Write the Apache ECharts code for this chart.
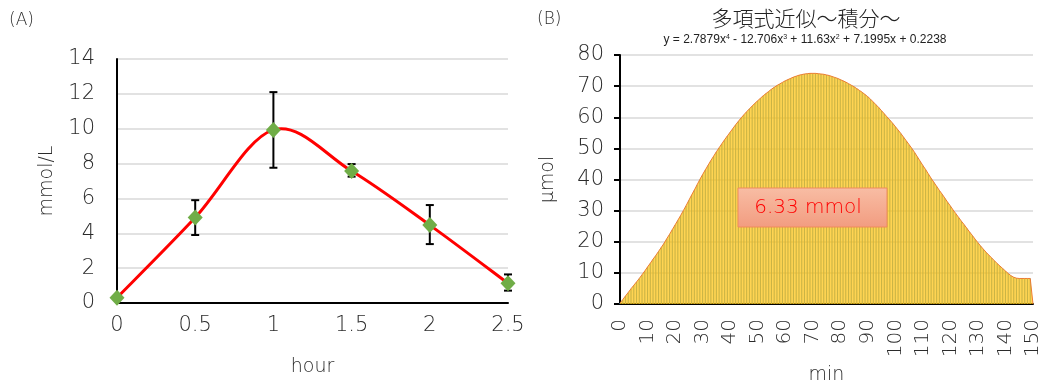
<!DOCTYPE html>
<html>
<head>
<meta charset="utf-8">
<script src="https://cdn.jsdelivr.net/npm/echarts@6/dist/echarts.min.js"></script>
<style>html,body{margin:0;padding:0;background:#fff;}#c{width:1040px;height:380px;}</style>
</head>
<body>
<div id="c"></div>
<script>
// ---- Chart (A) data ----
const aHours = [0, 0.5, 1, 1.5, 2, 2.5];
const aMean  = [0.3, 4.9, 9.93, 7.57, 4.47, 1.13];
const aLow   = [null, 3.9, 7.76, 7.25, 3.38, 0.71];
const aHigh  = [null, 5.9, 12.1, 7.97, 5.62, 1.64];

// ---- Chart (B) data ----
const minCategories = Array.from({length: 151}, (_, i) => String(i));
const umolPerMin = [
  0.3, 1.4, 2.6, 3.7, 4.9, 6.0, 7.1, 8.2, 9.4, 10.6,
  11.9, 13.1, 14.4, 15.6, 16.9, 18.2, 19.5, 21.0, 22.4, 23.9,
  25.4, 26.9, 28.4, 30.0, 31.6, 33.3, 35.0, 36.6, 38.3, 40.0,
  41.6, 43.1, 44.6, 46.1, 47.5, 48.9, 50.2, 51.5, 52.8, 54.0,
  55.2, 56.4, 57.6, 58.7, 59.8, 60.8, 61.8, 62.7, 63.6, 64.5,
  65.3, 66.1, 66.9, 67.6, 68.3, 69.0, 69.6, 70.2, 70.7, 71.2,
  71.7, 72.1, 72.5, 72.9, 73.2, 73.5, 73.7, 73.9, 74.0, 74.1,
  74.1, 74.1, 74.0, 73.9, 73.8, 73.6, 73.4, 73.1, 72.8, 72.5,
  72.1, 71.7, 71.3, 70.8, 70.3, 69.8, 69.2, 68.6, 68.0, 67.3,
  66.6, 65.8, 64.9, 64.0, 63.1, 62.1, 61.1, 60.1, 59.1, 58.1,
  57.0, 55.9, 54.8, 53.6, 52.4, 51.2, 50.0, 48.7, 47.3, 45.9,
  44.5, 43.2, 41.8, 40.4, 39.1, 37.8, 36.5, 35.3, 34.0, 32.7,
  31.5, 30.2, 29.0, 27.8, 26.6, 25.5, 24.3, 23.1, 22.0, 20.8,
  19.7, 18.6, 17.6, 16.6, 15.7, 14.8, 13.9, 13.0, 12.2, 11.4,
  10.6, 9.8, 9.1, 8.6, 8.3, 8.2, 8.2, 8.2, 8.2, 8.2,
  0
];
const titleB = '多項式近似～積分～';
const equationB = 'y = 2.7879x{s|4} - 12.706x{s|3} + 11.63x{s|2} + 7.1995x + 0.2238';
const integralLabel = '6.33 mmol';

const FONT = '"DejaVu Sans", sans-serif';
const FW = 200;
const CJK = '"Noto Sans CJK JP", sans-serif';
const TXT = '#2b2b2b';
const NARROW = '"Liberation Sans Narrow", "Liberation Sans", sans-serif';

const chart = echarts.init(document.getElementById('c'), null, {renderer: 'canvas'});

const errData = aHours.map((h, i) => [h, aLow[i], aHigh[i]]).filter(d => d[1] != null);

// Excel-style smoothed curve through the points, drawn via the axis scales
function smoothCurve(params, api) {
  const pts = aHours.map((h, i) => api.coord([h, aMean[i]]));
  const n = pts.length;
  const path = [];
  path.push('M' + pts[0][0] + ' ' + pts[0][1]);
  for (let i = 0; i < n - 1; i++) {
    const p0 = pts[Math.max(0, i - 1)], p1 = pts[i], p2 = pts[i + 1], p3 = pts[Math.min(n - 1, i + 2)];
    const c1 = [p1[0] + (p2[0] - p0[0]) / 6, p1[1] + (p2[1] - p0[1]) / 6];
    const c2 = [p2[0] - (p3[0] - p1[0]) / 6, p2[1] - (p3[1] - p1[1]) / 6];
    path.push('C' + c1[0] + ' ' + c1[1] + ' ' + c2[0] + ' ' + c2[1] + ' ' + p2[0] + ' ' + p2[1]);
  }
  return {
    type: 'path',
    shape: {pathData: path.join(' ')},
    style: {fill: 'none', stroke: '#ff0000', lineWidth: 3, lineJoin: 'round'}
  };
}

const axisName = {fontSize: 19, color: TXT, fontFamily: FONT, fontWeight: FW};
const tickLabel = {fontSize: 21, color: TXT, fontFamily: FONT, fontWeight: FW};

const option = {
  animation: false,
  textStyle: {fontFamily: FONT, fontWeight: FW},
  grid: [
    {left: 117, top: 59, width: 391, height: 244, containLabel: false, outerBoundsMode: 'none'},
    {left: 620, top: 55, width: 413, height: 249, containLabel: false, outerBoundsMode: 'none'}
  ],
  xAxis: [
    {
      type: 'value', gridIndex: 0, min: 0, max: 2.5, interval: 0.5,
      name: 'hour', nameLocation: 'middle', nameGap: 55, nameTextStyle: axisName,
      axisLine: {show: true, lineStyle: {color: '#000', width: 2}},
      axisTick: {show: false},
      splitLine: {show: false},
      axisLabel: Object.assign({margin: 12}, tickLabel)
    },
    {
      type: 'category', gridIndex: 1, data: minCategories, boundaryGap: false,
      name: 'min', nameLocation: 'middle', nameGap: 62, nameTextStyle: axisName,
      axisLine: {show: true, lineStyle: {color: '#000', width: 2}},
      axisTick: {show: false},
      splitLine: {show: false},
      axisLabel: Object.assign({interval: 9, rotate: 90, margin: 15}, tickLabel, {fontSize: 20})
    }
  ],
  yAxis: [
    {
      type: 'value', gridIndex: 0, min: 0, max: 14, interval: 2,
      name: 'mmol/L', nameLocation: 'middle', nameGap: 60, nameTextStyle: axisName,
      axisLine: {show: true, lineStyle: {color: '#000', width: 2}},
      axisTick: {show: false},
      splitLine: {show: true, lineStyle: {color: '#d9d9d9', width: 1.5}},
      axisLabel: Object.assign({margin: 22}, tickLabel)
    },
    {
      type: 'value', gridIndex: 1, min: 0, max: 80, interval: 10,
      name: 'μmol', nameLocation: 'middle', nameGap: 62, nameTextStyle: axisName,
      axisLine: {show: true, lineStyle: {color: '#000', width: 2}},
      axisTick: {show: true, length: 6, lineStyle: {color: '#000', width: 2}},
      splitLine: {show: true, lineStyle: {color: '#d9d9d9', width: 1.5}},
      axisLabel: Object.assign({margin: 16}, tickLabel)
    }
  ],
  series: [
    {
      type: 'custom', xAxisIndex: 0, yAxisIndex: 0, z: 2,
      data: errData,
      renderItem: function (params, api) {
        const x = api.value(0);
        const lo = api.coord([x, api.value(1)]);
        const hi = api.coord([x, api.value(2)]);
        const cap = 4;
        const st = {stroke: '#000', lineWidth: 2};
        return {
          type: 'group',
          children: [
            {type: 'line', shape: {x1: lo[0], y1: lo[1], x2: hi[0], y2: hi[1]}, style: st},
            {type: 'line', shape: {x1: lo[0] - cap, y1: lo[1], x2: lo[0] + cap, y2: lo[1]}, style: st},
            {type: 'line', shape: {x1: hi[0] - cap, y1: hi[1], x2: hi[0] + cap, y2: hi[1]}, style: st}
          ]
        };
      }
    },
    {
      type: 'custom', xAxisIndex: 0, yAxisIndex: 0, z: 3,
      data: [[0, 0]],
      renderItem: smoothCurve
    },
    {
      type: 'scatter', xAxisIndex: 0, yAxisIndex: 0, z: 4,
      data: aHours.map((h, i) => [h, aMean[i]]),
      symbol: 'diamond', symbolSize: [15, 16],
      itemStyle: {color: '#70ad47', opacity: 1, borderWidth: 0}
    },
    {
      type: 'bar', xAxisIndex: 1, yAxisIndex: 1, z: 1,
      data: umolPerMin,
      barWidth: '40%',
      itemStyle: {color: '#5b9bd5'}
    },
    {
      type: 'line', xAxisIndex: 1, yAxisIndex: 1, z: 2,
      data: umolPerMin,
      symbol: 'none',
      lineStyle: {color: '#ed7d31', width: 1},
      areaStyle: {color: '#ffc000', opacity: 0.68}
    }
  ],
  graphic: [
    {type: 'text', left: 9, top: 12, style: {text: '(A)', fontSize: 17, fill: TXT, fontFamily: FONT, fontWeight: FW}},
    {type: 'text', left: 537, top: 11, style: {text: '(B)', fontSize: 17, fill: TXT, fontFamily: FONT, fontWeight: FW}},
    {type: 'text', x: 806, y: 18, style: {text: titleB, fontSize: 21, fill: '#222', fontFamily: CJK, fontWeight: 300, align: 'center', verticalAlign: 'middle'}},
    {type: 'text', x: 805, y: 40, style: {
      text: equationB, fontSize: 12, fill: '#222', fontFamily: NARROW,
      align: 'center', verticalAlign: 'middle',
      rich: {s: {fontSize: 7, verticalAlign: 'top', lineHeight: 12, fontFamily: NARROW, fill: '#222'}}
    }},
    {type: 'rect', shape: {x: 738, y: 188, width: 149, height: 39}, z: 100,
      style: {
        fill: new echarts.graphic.LinearGradient(0, 0, 0, 1, [
          {offset: 0, color: '#f8bda4'}, {offset: 1, color: '#f29c80'}
        ]),
        stroke: '#f08a5a', lineWidth: 1
      }
    },
    {type: 'text', x: 808, y: 208, z: 101, style: {text: integralLabel, fontSize: 20, fill: '#ff0000', fontFamily: FONT, fontWeight: FW, align: 'center', verticalAlign: 'middle'}}
  ]
};
chart.setOption(option);
</script>
</body>
</html>
